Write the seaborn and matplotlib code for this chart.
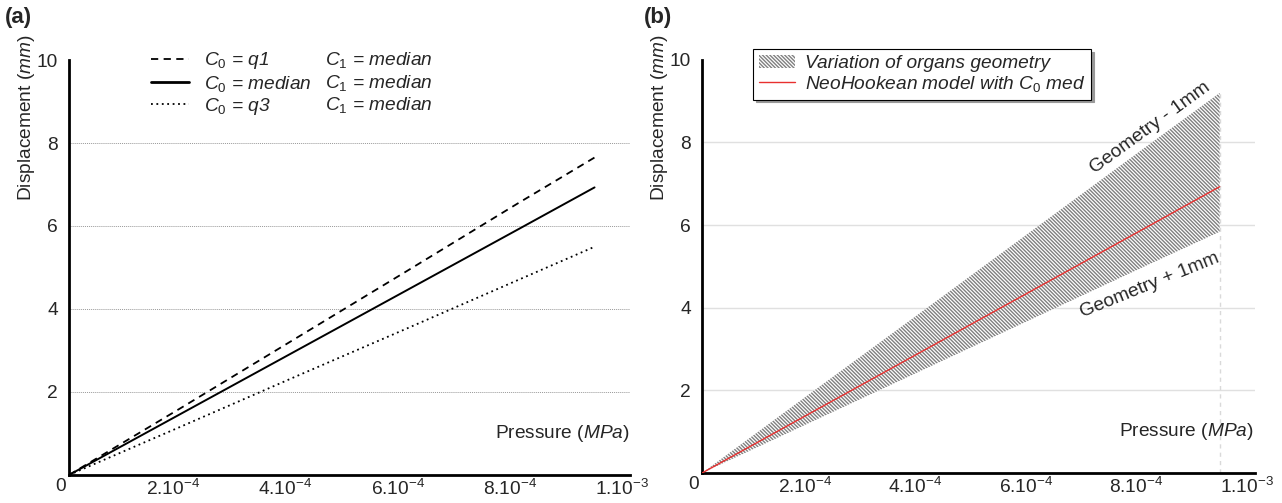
import numpy as np
import pandas as pd
import matplotlib
matplotlib.use("Agg")
import matplotlib.pyplot as plt
import matplotlib.transforms as mtransforms
from matplotlib.lines import Line2D
from matplotlib.patches import Patch
import seaborn as sns

# values
pressure = [0, 2e-4, 4e-4, 6e-4, 8e-4, 9.36e-4]
disp_q1 = [0, 1.62, 3.26, 4.90, 6.55, 7.65]
disp_med = [0, 1.48, 2.96, 4.44, 5.92, 6.93]
disp_q3 = [0, 1.17, 2.35, 3.52, 4.70, 5.50]

geom_minus = [0, 1.97, 3.93, 5.90, 7.87, 9.20]
geom_plus = [0, 1.25, 2.50, 3.75, 5.00, 5.84]
neo_med = [0, 1.48, 2.96, 4.44, 5.92, 6.93]

xticks = [0, 2e-4, 4e-4, 6e-4, 8e-4, 1e-3]
xlabels = ["0", r"$\mathregular{2.10^{-4}}$", r"$\mathregular{4.10^{-4}}$",
           r"$\mathregular{6.10^{-4}}$", r"$\mathregular{8.10^{-4}}$",
           r"$\mathregular{1.10^{-3}}$"]
yticks = [2, 4, 6, 8, 10]

sns.set_style("white")
plt.rcParams["font.family"] = ["Liberation Sans", "DejaVu Sans"]
plt.rcParams["mathtext.fontset"] = "custom"
plt.rcParams["mathtext.rm"] = "Liberation Sans"
plt.rcParams["mathtext.it"] = "Liberation Sans:italic"
plt.rcParams["hatch.linewidth"] = 1.0
plt.rcParams["hatch.color"] = "0.5"

FS = 13.8

df_a = pd.DataFrame({"p": pressure, "q1": disp_q1, "med": disp_med, "q3": disp_q3})
df_b = pd.DataFrame({"p": pressure, "up": geom_minus, "lo": geom_plus, "neo": neo_med})

fig = plt.figure(figsize=(12.82, 5.03), dpi=100)
ax1 = fig.add_axes([0.0538, 0.0557, 0.438, 0.825])
ax2 = fig.add_axes([0.5476, 0.0596, 0.4314, 0.8214])


def style_axis(ax, grid_style):
    ax.set_xlim(0, 1e-3)
    ax.set_ylim(0, 10)
    for s in ["top", "right"]:
        ax.spines[s].set_visible(False)
    for s in ["left", "bottom"]:
        ax.spines[s].set_linewidth(2)
        ax.spines[s].set_color("black")
    ax.set_xticks(xticks)
    ax.set_xticklabels(xlabels, fontsize=FS)
    ax.set_yticks(yticks)
    ax.set_yticklabels([str(v) for v in yticks], fontsize=FS)
    ax.set_xticks(np.arange(1, 10, 2) * 1e-4, minor=True)
    ax.set_yticks([1, 3, 5, 7, 9], minor=True)
    ax.tick_params(axis="both", which="major", direction="in", length=3, width=1)
    ax.tick_params(axis="x", which="major", pad=2.5)
    ax.tick_params(axis="y", which="major", pad=8)
    ax.tick_params(axis="both", which="minor", direction="in", length=3, width=0.8)
    off = mtransforms.ScaledTranslation(-0.08, 0, fig.dpi_scale_trans)
    for lab in ax.get_xticklabels():
        lab.set_transform(lab.get_transform() + off)
    for y in [2, 4, 6, 8]:
        ax.axhline(y, zorder=0, **grid_style)
    ax.set_xlabel("")
    ax.set_ylabel("")
    ax.text(0.998, 0.075, r"Pressure $\mathit{(MPa)}$", transform=ax.transAxes,
            ha="right", va="bottom", fontsize=FS)
    ax.text(-0.076, 0.86, r"Displacement $\mathit{(mm)}$", transform=ax.transAxes,
            rotation=90, ha="center", va="center", fontsize=FS)


# (a)
sns.lineplot(data=df_a, x="p", y="q1", ax=ax1, color="black", lw=1.3, linestyle=(0, (4, 3)))
sns.lineplot(data=df_a, x="p", y="med", ax=ax1, color="black", lw=1.4)
sns.lineplot(data=df_a, x="p", y="q3", ax=ax1, color="black", lw=1.3, linestyle=(0, (1, 2)))
style_axis(ax1, dict(color="0.6", lw=0.7, ls=(0, (1, 1))))

h1 = [Line2D([], [], color="black", lw=1.3, ls=(0, (4, 3))),
      Line2D([], [], color="black", lw=2.0),
      Line2D([], [], color="black", lw=1.3, ls=(0, (1, 2)))]
leg1 = ax1.legend(h1, [r"$\mathit{C_0}$ = q1", r"$\mathit{C_0}$ = median", r"$\mathit{C_0}$ = q3"],
                  loc="upper left", bbox_to_anchor=(0.115, 1.065), frameon=False,
                  prop={"style": "italic", "size": FS}, handlelength=2.0,
                  handletextpad=0.75, labelspacing=0.12)
ax1.add_artist(leg1)
h2 = [Line2D([], [], lw=0)] * 3
ax1.legend(h2, [r"$\mathit{C_1}$ = median"] * 3, loc="upper left",
           bbox_to_anchor=(0.425, 1.065), frameon=False,
           prop={"style": "italic", "size": FS}, handlelength=0,
           handletextpad=0, labelspacing=0.12)

# (b)
ax2.vlines(pressure[-1], 0, geom_minus[-1], colors="0.85", lw=1, linestyles=(0, (3, 3)), zorder=1)
ax2.fill_between(df_b["p"], df_b["lo"], df_b["up"], facecolor="white",
                 edgecolor="0.5", hatch="\\" * 9, linewidth=0, zorder=2)
sns.lineplot(data=df_b, x="p", y="neo", ax=ax2, color="#e8302f", lw=1.0, zorder=3)
style_axis(ax2, dict(color="0.88", lw=1.0))

hb = [Patch(facecolor="white", edgecolor="0.5", hatch="\\" * 9, linewidth=0),
      Line2D([], [], color="#e8302f", lw=1.0)]
leg = ax2.legend(hb, ["Variation of organs geometry", r"NeoHookean model with $\mathit{C_0}$ med"],
                 loc="upper left", bbox_to_anchor=(0.075, 1.05), frameon=True, fancybox=False,
                 shadow={"color": "0.6", "alpha": 1, "ox": 2, "oy": -2},
                 prop={"style": "italic", "size": FS}, handlelength=1.9,
                 handletextpad=0.5, labelspacing=0.1, borderpad=0.3)
leg.get_frame().set_edgecolor("black")
leg.get_frame().set_linewidth(0.8)

ax2.text(8.1e-4, 8.35, "Geometry - 1mm", rotation=36, ha="center", va="center", fontsize=FS)
ax2.text(8.1e-4, 4.55, "Geometry + 1mm", rotation=22, ha="center", va="center", fontsize=FS)

fig.text(0.004, 0.965, "(a)", fontsize=16, fontweight="bold", va="center")
fig.text(0.502, 0.965, "(b)", fontsize=16, fontweight="bold", va="center")

fig.savefig("out.png", dpi=100)
